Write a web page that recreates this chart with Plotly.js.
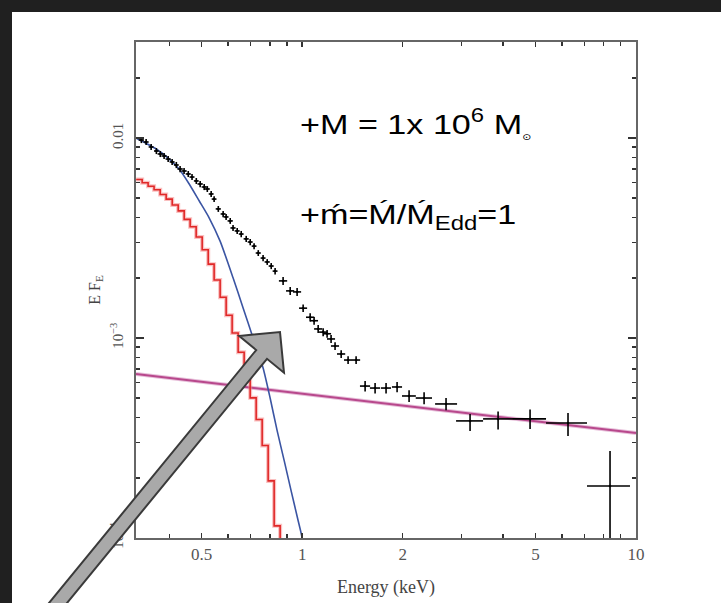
<!DOCTYPE html>
<html><head><meta charset="utf-8">
<script src="https://cdn.plot.ly/plotly-3.0.1.min.js"></script>
<style>
html,body{margin:0;padding:0;background:#202020;width:721px;height:603px;overflow:hidden}
#chart{position:absolute;left:12px;top:12px;width:709px;height:591px;background:#fff}
</style></head><body><div id="chart"></div>
<script>
// ---- data ----
const energy = [0.330,0.341,0.353,0.366,0.376,0.386,0.397,0.408,0.420,0.431,0.443,0.456,0.468,0.482,0.495,0.509,0.520,0.534,0.545,0.561,0.580,0.592,0.609,0.621,0.639,0.657,0.680,0.699,0.718,0.739,0.764,0.786,0.808,0.830,
  0.877,0.921,0.966,1.007,1.057,1.086,1.117,1.156,1.188,1.221,1.255,1.309,1.373,1.451,
  1.544,1.654,1.784,1.925,2.091,2.319,
  2.698,3.184,3.863,4.816,6.257,8.360];
const flux = [9.77e-3,9.55e-3,9.02e-3,8.61e-3,8.32e-3,8.13e-3,7.85e-3,7.59e-3,7.33e-3,7.00e-3,6.84e-3,6.61e-3,6.38e-3,6.10e-3,5.89e-3,5.69e-3,5.56e-3,5.25e-3,4.95e-3,4.42e-3,4.17e-3,4.03e-3,3.85e-3,3.55e-3,3.43e-3,3.31e-3,3.13e-3,3.02e-3,2.88e-3,2.66e-3,2.51e-3,2.40e-3,2.29e-3,2.16e-3,
  1.93e-3,1.72e-3,1.70e-3,1.41e-3,1.27e-3,1.22e-3,1.11e-3,1.07e-3,1.05e-3,9.89e-4,9.12e-4,8.32e-4,7.76e-4,7.76e-4,
  5.75e-4,5.62e-4,5.62e-4,5.69e-4,5.13e-4,5.01e-4,
  4.68e-4,3.85e-4,3.94e-4,3.94e-4,3.76e-4,1.82e-4];
const energyErrMinus = [0.006,0.006,0.006,0.006,0.007,0.007,0.007,0.007,0.007,0.008,0.008,0.008,0.008,0.008,0.009,0.009,0.009,0.009,0.009,0.010,0.010,0.010,0.011,0.011,0.011,0.011,0.012,0.012,0.012,0.013,0.013,0.014,0.014,0.014,
  0.025,0.026,0.027,0.028,0.030,0.030,0.031,0.032,0.033,0.034,0.035,0.037,0.038,0.041,
  0.054,0.058,0.062,0.067,0.10,0.13,
  0.196,0.293,0.380,0.562,0.880,1.227];
const energyErrPlus = [0.006,0.006,0.006,0.006,0.007,0.007,0.007,0.007,0.007,0.008,0.008,0.008,0.008,0.008,0.009,0.009,0.009,0.009,0.009,0.010,0.010,0.010,0.011,0.011,0.011,0.011,0.012,0.012,0.012,0.013,0.013,0.014,0.014,0.014,
  0.025,0.026,0.027,0.028,0.030,0.030,0.031,0.032,0.033,0.034,0.035,0.037,0.038,0.041,
  0.054,0.058,0.062,0.067,0.10,0.13,
  0.213,0.299,0.391,0.561,0.876,1.234];
const fluxErrMinus = [3.4e-4,3.3e-4,3.2e-4,3.0e-4,2.9e-4,2.8e-4,2.7e-4,2.7e-4,2.6e-4,2.5e-4,2.4e-4,2.3e-4,2.2e-4,2.1e-4,2.1e-4,2.0e-4,1.9e-4,1.8e-4,1.7e-4,1.5e-4,1.5e-4,1.4e-4,1.3e-4,1.2e-4,1.2e-4,1.2e-4,1.1e-4,1.1e-4,1.0e-4,0.9e-4,0.9e-4,0.8e-4,0.8e-4,0.8e-4,
  0.9e-4,0.8e-4,0.8e-4,0.6e-4,0.6e-4,0.55e-4,0.5e-4,0.5e-4,0.47e-4,0.45e-4,0.41e-4,0.37e-4,0.35e-4,0.35e-4,
  0.35e-4,0.34e-4,0.34e-4,0.34e-4,0.35e-4,0.35e-4,
  0.33e-4,0.42e-4,0.45e-4,0.43e-4,0.52e-4,1.5e-4];
const fluxErrPlus = [3.4e-4,3.3e-4,3.2e-4,3.0e-4,2.9e-4,2.8e-4,2.7e-4,2.7e-4,2.6e-4,2.5e-4,2.4e-4,2.3e-4,2.2e-4,2.1e-4,2.1e-4,2.0e-4,1.9e-4,1.8e-4,1.7e-4,1.5e-4,1.5e-4,1.4e-4,1.3e-4,1.2e-4,1.2e-4,1.2e-4,1.1e-4,1.1e-4,1.0e-4,0.9e-4,0.9e-4,0.8e-4,0.8e-4,0.8e-4,
  0.9e-4,0.8e-4,0.8e-4,0.6e-4,0.6e-4,0.55e-4,0.5e-4,0.5e-4,0.47e-4,0.45e-4,0.41e-4,0.37e-4,0.35e-4,0.35e-4,
  0.35e-4,0.34e-4,0.34e-4,0.34e-4,0.35e-4,0.35e-4,
  0.33e-4,0.32e-4,0.35e-4,0.45e-4,0.46e-4,0.9e-4];

// disk blackbody model (blue)
const blueEnergy = [0.318,0.3655,0.400,0.428,0.459,0.492,0.527,0.568,0.621,0.666,0.713,0.764,0.802,0.842,0.884,0.927,0.973,1.000,1.014];
const blueFlux   = [1.00e-2,8.81e-3,7.85e-3,7.00e-3,5.89e-3,4.84e-3,3.98e-3,3.05e-3,2.0e-3,1.41e-3,1.0e-3,7.08e-4,5.01e-4,3.43e-4,2.43e-4,1.72e-4,1.22e-4,1.0e-4,7.7e-5];

// folded model (red, histogram steps)
const redEnergy = [0.3184,0.3318,0.3457,0.3602,0.3757,0.3915,0.4082,0.4254,0.4433,0.4619,0.4815,0.5019,0.5232,0.5450,0.5681,0.5921,0.6171,0.6432,0.6704,0.6988,0.7283,0.7591,0.7911,0.8245,0.8593,0.8956];
const redFlux   = [6.20e-3,5.97e-3,5.74e-3,5.51e-3,5.22e-3,4.95e-3,4.62e-3,4.32e-3,3.92e-3,3.60e-3,3.20e-3,2.76e-3,2.34e-3,1.95e-3,1.60e-3,1.30e-3,1.06e-3,8.48e-4,6.31e-4,5.02e-4,3.91e-4,2.90e-4,1.93e-4,1.15e-4,7.7e-5,7.7e-5];

// power law (magenta)
const plEnergy = [0.318, 10];
const plFlux   = [6.6e-4, 3.35e-4];

// axis ticks
const xTickVals = [0.5, 1, 2, 5, 10];
const xTickText = ['0.5', '1', '2', '5', '10'];
const xMinorVals = [0.4, 0.6, 0.7, 0.8, 0.9, 3, 4, 6, 7, 8, 9];
const yTickVals = [1e-4, 1e-3, 1e-2];
const yTickText = ['10<sup>\u22124</sup>', '10<sup>\u22123</sup>', '0.01'];
const yMinorVals = [2e-4,3e-4,4e-4,5e-4,6e-4,7e-4,8e-4,9e-4,2e-3,3e-3,4e-3,5e-3,6e-3,7e-3,8e-3,9e-3,0.02,0.03];

// ---- traces ----
const traces = [
  {x: plEnergy, y: plFlux, mode: 'lines', line: {color: 'rgba(200,110,170,0.45)', width: 4}},
  {x: plEnergy, y: plFlux, mode: 'lines', line: {color: '#b8488c', width: 2}},
  {x: blueEnergy, y: blueFlux, mode: 'lines', line: {color: '#3b55a3', width: 1.6, shape: 'spline', smoothing: 0.6}},
  {x: redEnergy, y: redFlux, mode: 'lines', line: {color: 'rgba(245,130,130,0.5)', width: 4, shape: 'hv'}},
  {x: redEnergy, y: redFlux, mode: 'lines', line: {color: '#e02828', width: 1.6, shape: 'hv'}},
  {x: energy, y: flux, mode: 'markers', marker: {size: 2.5, color: '#000'},
   error_x: {type: 'data', array: energyErrPlus, arrayminus: energyErrMinus, symmetric: false, color: '#000', thickness: 1.6, width: 0},
   error_y: {type: 'data', array: fluxErrPlus, arrayminus: fluxErrMinus, symmetric: false, color: '#000', thickness: 1.6, width: 0}}
];

// arrow (decoration) in page pixels -> paper coords
function P(px, py){ return ((px-136)/500).toFixed(4) + ',' + ((538-py)/496).toFixed(4); }
const arrowPath = 'M ' + P(39.9,614.1) + ' L ' + P(256.2,350.0) + ' L ' + P(239.2,336) + ' L ' + P(280,332) +
  ' L ' + P(284,372.8) + ' L ' + P(267.0,358.8) + ' L ' + P(50.7,622.9) + ' Z';

const serif = 'Liberation Serif, Times New Roman, serif';
const sans = 'Liberation Sans, Arial, DejaVu Sans, sans-serif';

const layout = {
  width: 709, height: 591,
  margin: {l: 124, r: 85, t: 30, b: 65},
  paper_bgcolor: '#fff', plot_bgcolor: '#fff',
  showlegend: false, hovermode: false,
  xaxis: {
    type: 'log', range: [Math.log10(0.318), 1],
    tickvals: xTickVals, ticktext: xTickText,
    ticks: 'inside', ticklen: 5, tickwidth: 1.5, tickcolor: '#333',
    showline: true, linecolor: '#666', linewidth: 2, mirror: 'allticks',
    showgrid: false, zeroline: false,
    tickfont: {family: serif, size: 17, color: '#555'},
    title: {text: 'Energy (keV)', font: {family: serif, size: 18, color: '#444'}, standoff: 17},
    minor: {tickvals: xMinorVals, ticks: 'inside', ticklen: 4, tickwidth: 1.5, tickcolor: '#333', showgrid: false}
  },
  yaxis: {
    type: 'log', range: [-4, -1.52],
    tickvals: yTickVals, ticktext: yTickText, tickangle: -90,
    ticks: 'inside', ticklen: 8, tickwidth: 1.5, tickcolor: '#333',
    showline: true, linecolor: '#666', linewidth: 2, mirror: 'allticks',
    showgrid: false, zeroline: false, ticklabelstandoff: 5,
    tickfont: {family: serif, size: 15, color: '#555'},
    title: {text: 'E F<sub>E</sub>', font: {family: serif, size: 16, color: '#444'}, standoff: 3},
    minor: {tickvals: yMinorVals, ticks: 'inside', ticklen: 4, tickwidth: 1.5, tickcolor: '#333', showgrid: false}
  },
  annotations: [
    {xref: 'paper', yref: 'paper', x: (298-136)/500, y: (538-123)/496, xanchor: 'left', yanchor: 'middle', showarrow: false,
     text: '+M = 1x 10<sup>6</sup> M<sub><span style="font-size:9px">\u2299</span></sub>', font: {family: sans, size: 28, color: '#000'}},
    {xref: 'paper', yref: 'paper', x: (298-136)/500, y: (538-216)/496, xanchor: 'left', yanchor: 'middle', showarrow: false,
     text: '+\u1E3F=\u1E3E/\u1E3E<sub>Edd</sub>=1', font: {family: sans, size: 28, color: '#000'}}
  ],
  shapes: [
    {type: 'path', xref: 'paper', yref: 'paper', path: arrowPath, fillcolor: '#a9a9a9', line: {color: '#3a3a3a', width: 2}, layer: 'above'}
  ]
};

Plotly.newPlot('chart', traces, layout, {staticPlot: true, displayModeBar: false}).then(function(gd){
  // the reference lettering is horizontally wider than the font; widen it
  var s = 1.22;
  gd.querySelectorAll('.annotation-text').forEach(function(t){
    var bb = t.getBBox();
    var prev = t.getAttribute('transform') || '';
    t.setAttribute('transform', prev + ' translate(' + bb.x + ',0) scale(' + s + ',1) translate(' + (-bb.x) + ',0)');
  });
});
</script></body></html>
